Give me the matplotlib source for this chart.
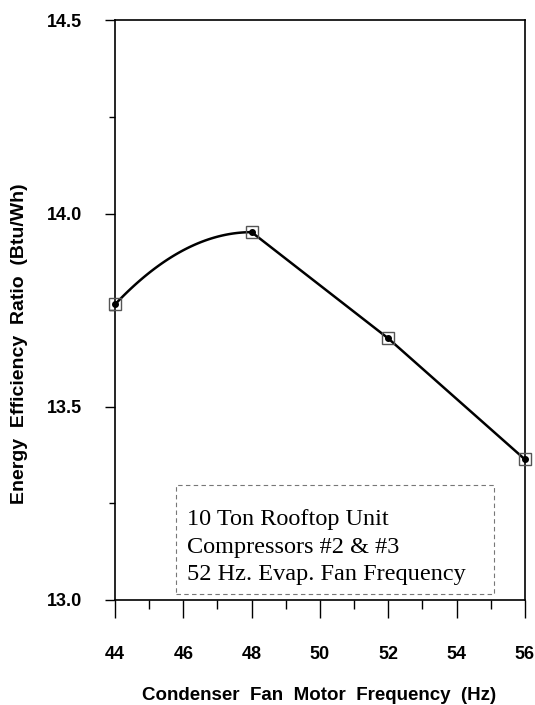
import numpy as np
import matplotlib
matplotlib.use("Agg")
import matplotlib.pyplot as plt
from matplotlib.ticker import MultipleLocator
from matplotlib.patches import Rectangle
from matplotlib.font_manager import FontProperties

# Measured EER versus condenser fan motor frequency
freq_hz = [44, 48, 52, 56]
eer = [13.765, 13.952, 13.677, 13.364]

x_ticks = [44, 46, 48, 50, 52, 54, 56]
y_ticks = [13.0, 13.5, 14.0, 14.5]

note_lines = ["10 Ton Rooftop Unit", "Compressors #2 & #3", "52 Hz. Evap. Fan Frequency"]

fig = plt.figure(figsize=(5.35, 7.05), dpi=100)
ax = fig.add_axes([0.215, 0.149, 0.766, 0.822])

# Smooth rise to the peak (parabola with its vertex at the peak point),
# straight segments afterwards
x = np.asarray(freq_hz, dtype=float)
y = np.asarray(eer, dtype=float)
ipk = int(np.argmax(y))
xs = np.linspace(x[0], x[ipk], 80)
a = (y[ipk] - y[0]) / (x[ipk] - x[0]) ** 2
ys = y[ipk] - a * (xs - x[ipk]) ** 2
curve_x = np.concatenate([xs, x[ipk + 1:]])
curve_y = np.concatenate([ys, y[ipk + 1:]])
ax.plot(curve_x, curve_y, color="black", lw=1.8, zorder=3)

# Open square markers with a dot in the centre
ax.plot(x, y, ls="none", marker="s", ms=8, mfc="none", mec="#555555", mew=1.0,
        zorder=4, clip_on=False)
ax.plot(x, y, ls="none", marker="o", ms=4, color="black", zorder=5, clip_on=False)

ax.set_xlim(44, 56)
ax.set_ylim(13.0, 14.5)
ax.set_xticks(x_ticks)
ax.set_yticks(y_ticks)
ax.set_yticklabels([f"{v:.1f}" for v in y_ticks])
ax.xaxis.set_minor_locator(MultipleLocator(1))
ax.yaxis.set_minor_locator(MultipleLocator(0.25))

tick_fp = FontProperties(family="Liberation Sans", weight="bold", size=13)
for lab in ax.get_xticklabels() + ax.get_yticklabels():
    lab.set_fontproperties(tick_fp)

ax.tick_params(axis="x", which="major", direction="out", length=13, width=1.0, pad=20)
ax.tick_params(axis="x", which="minor", direction="out", length=6.5, width=1.0)
ax.tick_params(axis="y", which="major", direction="out", length=7, width=1.0, pad=17)
ax.tick_params(axis="y", which="minor", direction="out", length=4.5, width=1.0)

for sp in ax.spines.values():
    sp.set_linewidth(1.2)

fig.text(0.597, 0.0128, "Condenser  Fan  Motor  Frequency  (Hz)",
         ha="center", va="center", family="Liberation Sans", weight="bold", size=13.5)
fig.text(0.037, 0.513, "Energy  Efficiency  Ratio  (Btu/Wh)", rotation=90,
         ha="center", va="center", family="Liberation Sans", weight="bold", size=14)

# Annotation box with its three lines of text
ax.add_patch(Rectangle((0.149, 0.0104), 0.775, 0.188, transform=ax.transAxes,
                       fill=False, ec="#777777", lw=0.8, ls=(0, (4, 3)), zorder=2))
baselines = [0.1294, 0.0811, 0.0345]
for line, yb in zip(note_lines, baselines):
    ax.text(0.176, yb, line, transform=ax.transAxes, family="Liberation Serif",
            size=17.5, ha="left", va="baseline", zorder=6)

fig.savefig("out.png", dpi=100)
